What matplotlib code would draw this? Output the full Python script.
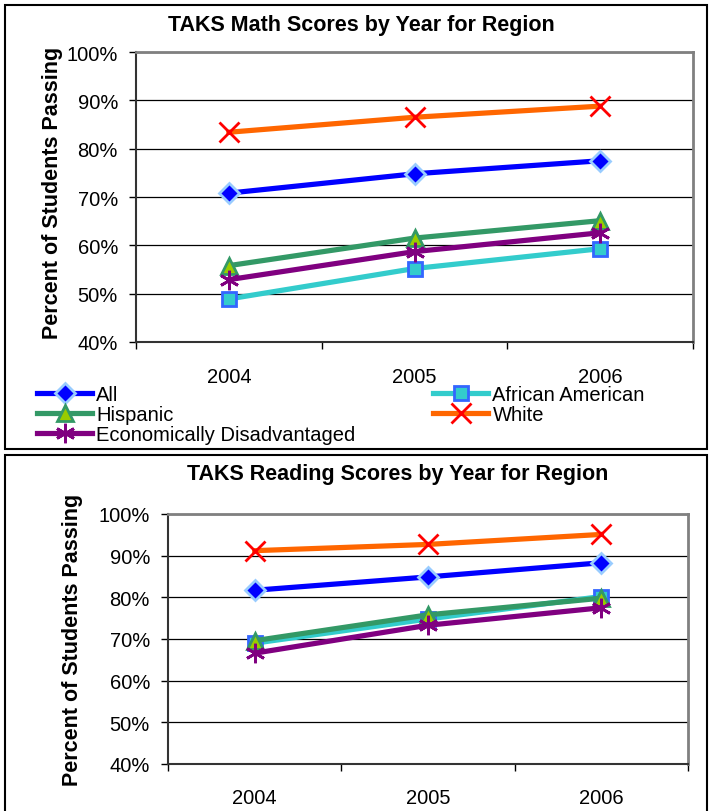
import matplotlib
matplotlib.use("Agg")
import matplotlib.pyplot as plt
from matplotlib.patches import Rectangle

plt.rcParams['font.family'] = ['Liberation Sans', 'DejaVu Sans']

years = ["2004", "2005", "2006"]
yticks = [40, 50, 60, 70, 80, 90, 100]

math_all = [70.8, 74.8, 77.5]
math_afam = [48.9, 55.2, 59.3]
math_hisp = [55.8, 61.5, 65.1]
math_white = [83.4, 86.5, 88.8]
math_econ = [52.9, 58.7, 62.6]

read_all = [81.7, 84.9, 88.3]
read_afam = [69.0, 74.8, 80.2]
read_hisp = [69.6, 75.8, 79.8]
read_white = [91.2, 92.7, 95.1]
read_econ = [66.6, 73.3, 77.5]

series_names = ["All", "African American", "Hispanic", "White", "Economically Disadvantaged"]

W, H = 713, 812
fig = plt.figure(figsize=(W / 100, H / 100), dpi=100)

styles = {
    "All": dict(color='#0000FF', marker='D', ms=10, mfc='#0000FF', mec='#99CCFF', mew=2),
    "African American": dict(color='#33CCCC', marker='s', ms=10, mfc='#33CCCC', mec='#3366FF', mew=2),
    "Hispanic": dict(color='#339966', marker='^', ms=11, mfc='#99CC00', mec='#339966', mew=2),
    "White": dict(color='#FF6600', marker='x', ms=15, mec='#FF0000', mew=2),
    "Economically Disadvantaged": dict(color='#800080', marker=(6, 2, 0), ms=14, mec='#800080', mew=2),
}
LW = 3.75
FS = 14.5


def px_axes(l, t, r, b):
    return fig.add_axes([l / W, 1 - b / H, (r - l) / W, (b - t) / H])


def panel(l, t, r, b):
    fig.patches.append(Rectangle((l / W, 1 - b / H), (r - l) / W, (b - t) / H,
                                 transform=fig.transFigure, fill=False,
                                 edgecolor='black', lw=1.5, zorder=0))


def draw(ax, data, pad, ylab_xy):
    x = list(range(len(years)))
    lines = {}
    for name, vals in zip(series_names, data):
        ln, = ax.plot(x, vals, lw=LW, clip_on=False, zorder=3, **styles[name])
        lines[name] = ln
    ax.set_xlim(-0.5, len(years) - 0.5)
    ax.set_ylim(40, 100)
    ax.set_yticks(yticks)
    ax.set_yticklabels([f"{v}%" for v in yticks], fontsize=FS)
    ax.set_xticks(x)
    ax.set_xticklabels(years, fontsize=FS)
    ax.set_xticks([i - 0.5 for i in range(len(years) + 1)], minor=True)
    ax.tick_params(axis='x', which='major', length=0, pad=pad)
    ax.tick_params(axis='x', which='minor', length=5, width=1, direction='out')
    ax.tick_params(axis='y', length=5, width=1, direction='out', pad=8)
    ax.yaxis.grid(True, color='black', lw=0.9)
    ax.set_axisbelow(True)
    for s in ['left', 'bottom']:
        ax.spines[s].set_color('#333333')
        ax.spines[s].set_linewidth(1.5)
    for s in ['top', 'right']:
        ax.spines[s].set_color('#808080')
        ax.spines[s].set_linewidth(2)
    ax.set_ylabel("Percent of Students Passing", fontsize=15.5, fontweight='bold')
    ax.yaxis.set_label_coords(*ylab_xy)
    return lines


# Top panel
panel(5, 6, 707, 450)
ax1 = px_axes(136, 53, 693, 343)
lines = draw(ax1, [math_all, math_afam, math_hisp, math_white, math_econ], 18,
             ((63 - 136) / 557, 0.519))
fig.text(361 / W, 1 - 25 / H, "TAKS Math Scores by Year for Region", ha='center', va='center',
         fontsize=15.5, fontweight='bold')

leg_kw = dict(loc='upper left', frameon=False, fontsize=FS, borderpad=0, labelspacing=0.05,
              handletextpad=0.2, handlelength=2.75, borderaxespad=0)
names1 = ["All", "Hispanic", "Economically Disadvantaged"]
fig.legend([lines[n] for n in names1], names1, bbox_to_anchor=(37 / W, 1 - 386 / H), **leg_kw)
names2 = ["African American", "White"]
fig.legend([lines[n] for n in names2], names2, bbox_to_anchor=(433 / W, 1 - 386 / H), **leg_kw)

# Bottom panel
panel(5, 456, 707, 830)
ax2 = px_axes(168, 515, 688, 765)
draw(ax2, [read_all, read_afam, read_hisp, read_white, read_econ], 17,
     ((83 - 168) / 520, 0.5))
fig.text(398 / W, 1 - 475 / H, "TAKS Reading Scores by Year for Region", ha='center', va='center',
         fontsize=15.5, fontweight='bold')

fig.savefig("out.png", dpi=100)
